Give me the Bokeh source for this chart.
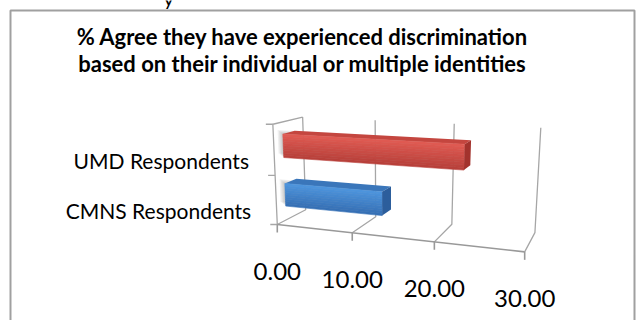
import numpy as np
from bokeh.plotting import figure
from bokeh.models import Range1d
from bokeh.embed import file_html
from bokeh.resources import INLINE
from bokeh.core.properties import value

# ---------------- data ----------------
title_lines = ["% Agree they have experienced discrimination",
               "based on their individual or multiple identities"]
categories = ["CMNS Respondents", "UMD Respondents"]
values = [12.9, 22.6]
ticks = [0, 10, 20, 30]
tick_labels = ["0.00", "10.00", "20.00", "30.00"]
axis_max = 30

# ---------------- styles ----------------
front_top = ["#4E96DE", "#E15B53"]
front_bot = ["#356EB3", "#B63F39"]
top_col = ["#3A76BA", "#C4463F"]
side_col = ["#2C5E9C", "#A3332D"]
grid_col = "#A6A6A6"

# ---------------- 3-D camera (layout) ----------------
# world = (value, category height, depth) ; page = pixel position
anchor_world = [(0, 0, 0), (10, 0, 0), (20, 0, 0), (30, 0, 0), (0, 2, 0),
                (0, 0, 1), (10, 0, 1), (20, 0, 1), (30, 0, 1),
                (0, 2, 1), (10, 2, 1), (20, 2, 1), (30, 2, 1)]
anchor_page = [(278, 221), (352, 232), (433, 242), (525, 253), (271, 125),
               (304, 213), (375, 217), (452, 222), (534, 230),
               (304, 115), (375, 119), (452, 123), (541, 129)]


def fit_camera(W, S):
    W = np.asarray(W, float) / np.array([30.0, 2.0, 1.0])
    S = np.asarray(S, float)
    sm = S.mean(0)
    ss = S.std()
    sn = (S - sm) / ss
    rows = []
    for (X, Y, Z), (x, y) in zip(W, sn):
        rows.append([X, Y, Z, 1, 0, 0, 0, 0, -x * X, -x * Y, -x * Z, -x])
        rows.append([0, 0, 0, 0, X, Y, Z, 1, -y * X, -y * Y, -y * Z, -y])
    _, _, vt = np.linalg.svd(np.array(rows))
    P = vt[-1].reshape(3, 4)

    def proj(v, h, d):
        v, h, d = np.broadcast_arrays(np.asarray(v, float), np.asarray(h, float), np.asarray(d, float))
        X = np.stack([v / 30.0, h / 2.0, d, np.ones_like(v)])
        q = np.tensordot(P, X, axes=1)
        return (q[0] / q[2]) * ss + sm[0], (q[1] / q[2]) * ss + sm[1]
    return proj


proj = fit_camera(anchor_world, anchor_page)

p = figure(width=639, height=320, x_range=Range1d(0, 639), y_range=Range1d(320, 0),
           output_backend="svg", toolbar_location=None, min_border=0,
           x_axis_type=None, y_axis_type=None)
p.grid.visible = False
p.outline_line_color = None
p.background_fill_color = "white"

# slide fragment above the chart box (only its descender shows)
p.text(x=[163], y=[-3], text=["y"], text_font=value("Lato"), text_font_size="20px",
       text_color="black", text_baseline="alphabetic")

# chart box border
p.multi_line(xs=[[10, 10, 634, 634]], ys=[[321, 10, 10, 321]], line_color="#A0A0A0", line_width=2)

# title
p.text(x=[302, 302], y=[36, 63], text=title_lines, text_font=value("Lato"),
       text_font_size="22px", text_font_style="bold", text_color="black",
       text_align="center", text_baseline="alphabetic")

n_cat = len(categories)

# floor gridlines and back wall gridlines
fx, fy = [], []
for t in ticks:
    x0, y0 = proj(t, 0, 0)
    x1, y1 = proj(t, 0, 1)
    x2, y2 = proj(t, n_cat, 1)
    fx.append([float(x0), float(x1), float(x2)])
    fy.append([float(y0), float(y1), float(y2)])
p.multi_line(xs=fx, ys=fy, line_color=grid_col, line_width=1.3)

# left wall: front edge and top edge
lx, ly = proj([0, 0, 0], [0, n_cat, n_cat], [0, 0, 1])
p.line(x=list(lx), y=list(ly), line_color=grid_col, line_width=1.3)
# category axis ticks
cx, cy = proj(0, np.arange(n_cat + 1), 0)
p.segment(x0=list(cx), y0=list(cy), x1=list(cx - 7), y1=list(cy), line_color=grid_col, line_width=1.3)

# value axis (front edge)
ax, ay = proj([0, axis_max], 0, 0)
p.line(x=list(ax), y=list(ay), line_color="#999999", line_width=1.6)
tx, ty = proj(ticks, 0, 0)
p.segment(x0=list(tx), y0=list(ty), x1=list(tx), y1=list(ty + 8), line_color="#999999", line_width=1.6)
p.text(x=list(tx), y=list(ty + 47), text=tick_labels, text_font=value("Lato"),
       text_font_size="24px", text_color="black", text_align="center", text_baseline="alphabetic")

# category labels
lbx, lby = proj(0, np.arange(n_cat) + 0.5, 0)
p.text(x=list(lbx - 25), y=list(lby + 10), text=categories, text_font=value("Lato"),
       text_font_size="21px", text_color="black", text_align="right", text_baseline="alphabetic")


def mix(c1, c2, t):
    a = np.array([int(c1[i:i + 2], 16) for i in (1, 3, 5)])
    b = np.array([int(c2[i:i + 2], 16) for i in (1, 3, 5)])
    c = np.round(a + (b - a) * t).astype(int)
    return "#%02x%02x%02x" % tuple(c)


# bars (3-D boxes)
d0, d1 = 0.3, 0.7
for i, (cat, val) in enumerate(zip(categories, values)):
    h0, h1 = i + 0.29, i + 0.76
    # soft shadow at the left end
    for k in range(4):
        sx, sy = proj([0, val, val, 0], [h0, h0, h1, h1], d0)
        off = 1.3 * (k + 1)
        p.patch(x=list(sx - off), y=list(sy - off * 0.8), fill_color="#555555", fill_alpha=0.09,
                line_color=None)
    # top face
    tx_, ty_ = proj([0, val, val, 0], h1, [d0, d0, d1, d1])
    p.patch(x=list(tx_), y=list(ty_), fill_color=top_col[i], line_color=None)
    # front face, gradient strips
    n = 10
    for s in range(n):
        ha = h1 - (h1 - h0) * s / n
        hb = h1 - (h1 - h0) * (s + 1) / n
        qx, qy = proj([0, val, val, 0], [ha, ha, hb, hb], d0)
        col = mix(front_top[i], front_bot[i], (s + 0.5) / n)
        p.patch(x=list(qx), y=list(qy), fill_color=col, line_color=col, line_width=0.6)
    # end cap
    ex, ey = proj(val, [h0, h1, h1, h0], [d0, d0, d1, d1])
    p.patch(x=list(ex), y=list(ey), fill_color=side_col[i], line_color=None)

open("out.html", "w").write(file_html(p, INLINE))
